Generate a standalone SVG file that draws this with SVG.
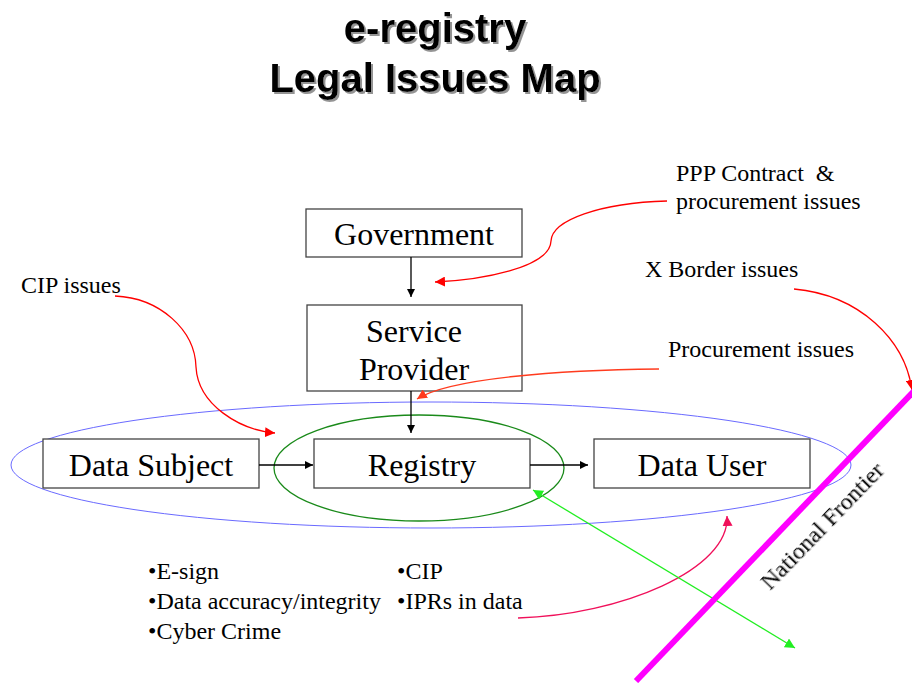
<svg xmlns="http://www.w3.org/2000/svg" width="912" height="683" viewBox="0 0 912 683">
<defs>
<style>
.box{fill:#fff;stroke:#444;stroke-width:1.3}
.bt{font-family:"Liberation Serif",serif;font-size:32px;fill:#000;text-anchor:middle}
.lbl{font-family:"Liberation Serif",serif;font-size:24px;fill:#000;white-space:pre}
.title{font-family:"Liberation Sans",Arial,sans-serif;font-weight:bold;font-size:40px;text-anchor:middle;fill:#000}
.blk{stroke:#000;stroke-width:1.3;fill:none}
.red{stroke:#ff0000;stroke-width:1.3;fill:none}
</style>
<filter id="sh" x="-10%" y="-30%" width="120%" height="160%"><feDropShadow dx="2" dy="2" stdDeviation="0.6" flood-color="#888" flood-opacity="0.9"/></filter>
<filter id="sh2" x="-10%" y="-30%" width="120%" height="160%"><feDropShadow dx="1" dy="1" stdDeviation="0.5" flood-color="#999" flood-opacity="0.6"/></filter>
<marker id="ab" viewBox="0 0 10 10" refX="10" refY="5" markerWidth="8" markerHeight="8" markerUnits="userSpaceOnUse" orient="auto"><path d="M0,0 L10,5 L0,10 z" fill="#000"/></marker>
<marker id="ar" viewBox="0 0 10 10" refX="10" refY="5" markerWidth="10" markerHeight="10" markerUnits="userSpaceOnUse" orient="auto"><path d="M0,0 L10,5 L0,10 z" fill="#ff0000"/></marker>
<marker id="ao" viewBox="0 0 10 10" refX="10" refY="5" markerWidth="10" markerHeight="10" markerUnits="userSpaceOnUse" orient="auto"><path d="M0,0 L10,5 L0,10 z" fill="#ff3b1e"/></marker>
<marker id="ac" viewBox="0 0 10 10" refX="10" refY="5" markerWidth="10" markerHeight="10" markerUnits="userSpaceOnUse" orient="auto"><path d="M0,0 L10,5 L0,10 z" fill="#f0105a"/></marker>
<marker id="ag" viewBox="0 0 10 10" refX="10" refY="5" markerWidth="10" markerHeight="10" markerUnits="userSpaceOnUse" orient="auto-start-reverse"><path d="M0,0 L10,5 L0,10 z" fill="#22ee22"/></marker>
</defs>
<rect width="912" height="683" fill="#fff"/>
<g id="title" filter="url(#sh)">
<text class="title" x="435" y="42">e-registry</text>
<text class="title" x="435" y="92">Legal Issues Map</text>
</g>
<g id="regions">
<ellipse cx="431" cy="465" rx="420" ry="63" fill="none" stroke="#6a6aff" stroke-width="1"/>
<ellipse cx="419" cy="468" rx="145" ry="53" fill="none" stroke="#1a8a1a" stroke-width="1.3"/>
</g>
<g id="government"><rect class="box" x="306" y="209" width="216" height="48"/><text class="bt" x="414" y="245">Government</text></g>
<g id="service-provider"><rect class="box" x="307" y="305" width="215" height="86"/><text class="bt" x="414" y="342">Service</text><text class="bt" x="414" y="380">Provider</text></g>
<g id="data-subject"><rect class="box" x="43" y="439" width="216" height="49"/><text class="bt" x="151" y="476">Data Subject</text></g>
<g id="registry"><rect class="box" x="314" y="439" width="216" height="49"/><text class="bt" x="422" y="476">Registry</text></g>
<g id="data-user"><rect class="box" x="594" y="439" width="216" height="49"/><text class="bt" x="702" y="476">Data User</text></g>
<g id="connectors">
<line class="blk" x1="411" y1="257" x2="411" y2="297" marker-end="url(#ab)"/>
<line class="blk" x1="411" y1="391" x2="411" y2="433" marker-end="url(#ab)"/>
<line class="blk" x1="259" y1="465" x2="313" y2="465" marker-end="url(#ab)"/>
<line class="blk" x1="530" y1="465" x2="588" y2="465" marker-end="url(#ab)"/>
<path class="red" d="M667,201 C600,203 552,220 551,241 C550,268 480,280 435,282" marker-end="url(#ar)"/>
<path class="red" d="M115,296 C160,298 195,330 196,367 C198,405 240,430 275,433" marker-end="url(#ar)"/>
<path d="M659,369 C560,370 450,378 417,399" fill="none" stroke="#ff3b1e" stroke-width="1.3" marker-end="url(#ao)"/>
<path class="red" d="M794,289 C860,295 905,340 912,390" marker-end="url(#ar)"/>
<path d="M518,618 C620,615 730,570 727,516" fill="none" stroke="#f0105a" stroke-width="1.3" marker-end="url(#ac)"/>
<line x1="533" y1="490" x2="795" y2="648" stroke="#22ee22" stroke-width="1.3" marker-start="url(#ag)" marker-end="url(#ag)"/>
</g>
<g id="frontier">
<line x1="636" y1="681" x2="914" y2="391" stroke="#ff00ff" stroke-width="6"/>
<text class="lbl" font-size="23.5" transform="translate(770,591) rotate(-46)" filter="url(#sh2)">National Frontier</text>
</g>
<g id="labels">
<text class="lbl" x="676" y="181" xml:space="preserve">PPP Contract  &amp;</text>
<text class="lbl" x="676" y="209">procurement issues</text>
<text class="lbl" x="645" y="277">X Border issues</text>
<text class="lbl" x="21" y="293">CIP issues</text>
<text class="lbl" x="668" y="357">Procurement issues</text>
<text class="lbl" x="148" y="579">•E-sign</text>
<text class="lbl" x="148" y="609">•Data accuracy/integrity</text>
<text class="lbl" x="148" y="639">•Cyber Crime</text>
<text class="lbl" x="397" y="579">•CIP</text>
<text class="lbl" x="397" y="609">•IPRs in data</text>
</g>
</svg>
